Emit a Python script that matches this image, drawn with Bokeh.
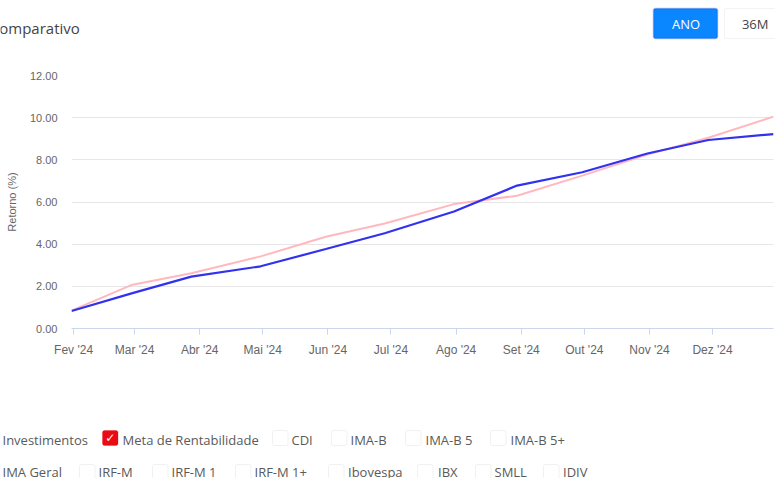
from math import pi
import pandas as pd
from bokeh.plotting import figure
from bokeh.layouts import column
from bokeh.models import (ColumnDataSource, FixedTicker, Label, BoxAnnotation,
                          Range1d, NumeralTickFormatter)
from bokeh.embed import file_html
from bokeh.resources import INLINE

# ---------------- data ----------------
dates = ["2024-01-31", "2024-02-29", "2024-03-28", "2024-04-30", "2024-05-31", "2024-06-28",
         "2024-07-31", "2024-08-30", "2024-09-30", "2024-10-31", "2024-11-29", "2024-12-30"]
investimentos = [0.83, 1.68, 2.46, 2.95, 3.77, 4.52, 5.55, 6.78, 7.41, 8.30, 8.94, 9.22]
meta_rentabilidade = [0.85, 2.08, 2.62, 3.42, 4.35, 4.98, 5.90, 6.30, 7.25, 8.25, 9.05, 10.05]

tick_dates = ["2024-02-01", "2024-03-01", "2024-04-01", "2024-05-01", "2024-06-01", "2024-07-01",
              "2024-08-01", "2024-09-01", "2024-10-01", "2024-11-01", "2024-12-01"]
tick_labels = ["Fev '24", "Mar '24", "Abr '24", "Mai '24", "Jun '24", "Jul '24",
               "Ago '24", "Set '24", "Out '24", "Nov '24", "Dez '24"]
y_ticks = [0, 2, 4, 6, 8, 10, 12]

title_text = "Comparativo"
y_label = "Retorno (%)"
buttons = ["ANO", "36M"]
legend_row1 = ["Investimentos", "Meta de Rentabilidade", "CDI", "IMA-B", "IMA-B 5", "IMA-B 5+"]
legend_row1_checked = [None, True, False, False, False, False]
legend_row2 = ["IMA Geral", "IRF-M", "IRF-M 1", "IRF-M 1+", "Ibovespa", "IBX", "SMLL", "IDIV"]
legend_row2_checked = [None, False, False, False, False, False, False, False]


def ms(d):
    return pd.Timestamp(d).value / 1e6


# ---------------- layout (page pixels) ----------------
W = 775
TOP_H = 55          # title / buttons strip: page y 0..55
CHART_H = 345       # chart: page y 55..400
BOT_H = 78          # legend strip: page y 400..478
FRAME_L, FRAME_R, FRAME_T, FRAME_B = 71, 773, 75, 328
DY = -4.5           # baseline correction for svg text

AX_FONT = "Liberation Sans"
UI_FONT = "Open Sans"
TXT = "#5a5a5a"


def strip(y0, h):
    f = figure(width=W, height=h, output_backend="svg", toolbar_location=None,
               x_range=Range1d(0, W), y_range=Range1d(y0 + h, y0),
               x_axis_location=None, y_axis_location=None, frame_align=False,
               min_border=0, min_border_left=0, min_border_right=0,
               min_border_top=0, min_border_bottom=0)
    f.grid.visible = False
    f.outline_line_color = None
    f.background_fill_color = "white"
    f.border_fill_color = "white"
    return f


# ---------------- title strip ----------------
top = strip(0, TOP_H)
top.add_layout(Label(x=-10.7, y=31.5 + DY, text=title_text, text_align="left",
                     text_baseline="alphabetic", text_font=UI_FONT, text_font_size="15px",
                     text_color="#444444"))
top.add_layout(BoxAnnotation(left=653, right=717, top=8, bottom=38, fill_color="#0a86ff",
                             fill_alpha=1, line_color="#1840d4", line_width=1.5,
                             border_radius=2))
top.add_layout(BoxAnnotation(left=724, right=800, top=8, bottom=38, fill_color="white",
                             fill_alpha=1, line_color="#d8d8d8", line_width=1,
                             border_radius=2))
top.add_layout(Label(x=685.5, y=28.3 + DY, text=buttons[0], text_align="center",
                     text_baseline="alphabetic", text_font=UI_FONT, text_font_size="13px",
                     text_color="white"))
top.add_layout(Label(x=754.7, y=28.3 + DY, text=buttons[1], text_align="center",
                     text_baseline="alphabetic", text_font=UI_FONT, text_font_size="13px",
                     text_color="#444444"))

# ---------------- chart ----------------
src = ColumnDataSource(dict(date=[pd.Timestamp(d) for d in dates],
                            inv=investimentos, meta=meta_rentabilidade))

p = figure(width=W, height=CHART_H, x_axis_type="datetime", output_backend="svg",
           toolbar_location=None, frame_align=False,
           x_range=Range1d(ms(dates[0]), ms(dates[-1])), y_range=Range1d(0, 12),
           min_border_left=FRAME_L, min_border_right=W - FRAME_R,
           min_border_top=FRAME_T - TOP_H, min_border_bottom=TOP_H + CHART_H - FRAME_B)
p.outline_line_color = None
p.background_fill_color = "white"
p.border_fill_color = "white"

p.xgrid.visible = False
p.ygrid.grid_line_color = "#e6e6e6"
p.ygrid.grid_line_width = 1

p.yaxis.ticker = FixedTicker(ticks=y_ticks)
p.yaxis.formatter = NumeralTickFormatter(format="0.00")
p.yaxis.axis_line_color = None
p.yaxis.major_tick_line_color = None
p.yaxis.minor_tick_line_color = None
p.yaxis.major_tick_in = 0
p.yaxis.major_tick_out = 0
p.yaxis.major_label_standoff = 14
p.yaxis.major_label_text_font = AX_FONT
p.yaxis.major_label_text_font_size = "11px"
p.yaxis.major_label_text_color = "#666666"
p.yaxis.axis_label = y_label
p.yaxis.axis_label_standoff = 9
p.yaxis.axis_label_text_font = AX_FONT
p.yaxis.axis_label_text_font_size = "11px"
p.yaxis.axis_label_text_font_style = "normal"
p.yaxis.axis_label_text_color = "#666666"

tick_ms = [ms(d) for d in tick_dates]
p.xaxis.ticker = FixedTicker(ticks=tick_ms)
p.xaxis.major_label_overrides = {t: l for t, l in zip(tick_ms, tick_labels)}
p.xaxis.axis_line_color = "#ccd6eb"
p.xaxis.major_tick_line_color = "#ccd6eb"
p.xaxis.minor_tick_line_color = None
p.xaxis.major_tick_in = 0
p.xaxis.major_tick_out = 6
p.xaxis.major_label_standoff = 8
p.xaxis.major_label_text_font = AX_FONT
p.xaxis.major_label_text_font_size = "12px"
p.xaxis.major_label_text_color = "#666666"

p.line(x="date", y="meta", source=src, line_color="#ffb8be", line_width=2)
p.line(x="date", y="inv", source=src, line_color="#3131f0", line_width=2.2)

# ---------------- legend strip ----------------
bot = strip(TOP_H + CHART_H, BOT_H)

row1_box_x = [None, 102, 272, 331, 405, 490]
row1_text_x = [2, 122, 291, 350, 425, 510]
row2_box_x = [None, 79, 152, 235, 328, 417, 475, 543]
row2_text_x = [2, 98, 171, 254, 347.5, 437.5, 494, 562.5]


def legend_row(names, checked, box_x, text_x, box_top, baseline):
    for name, chk, bx, tx in zip(names, checked, box_x, text_x):
        if bx is not None:
            red = bool(chk)
            bot.add_layout(BoxAnnotation(left=bx, right=bx + 15.5, top=box_top,
                                         bottom=box_top + 15,
                                         fill_color="#ea0a14" if red else "white", fill_alpha=1,
                                         line_color="#ea0a14" if red else "#cfcfcf",
                                         line_width=1, border_radius=2))
            if red:
                bot.add_layout(Label(x=bx + 7.75, y=box_top + 7.5, text="\u2713",
                                     text_align="center", text_baseline="middle",
                                     text_font="DejaVu Sans", text_font_size="12px",
                                     text_font_style="bold", text_color="white"))
        bot.add_layout(Label(x=tx, y=baseline + DY, text=name, text_align="left",
                             text_baseline="alphabetic", text_font=UI_FONT,
                             text_font_size="13px", text_color=TXT))


legend_row(legend_row1, legend_row1_checked, row1_box_x, row1_text_x, 430, 443.5)
legend_row(legend_row2, legend_row2_checked, row2_box_x, row2_text_x, 464, 475.5)

layout = column(top, p, bot, spacing=0)
open("out.html", "w").write(file_html(layout, INLINE))
